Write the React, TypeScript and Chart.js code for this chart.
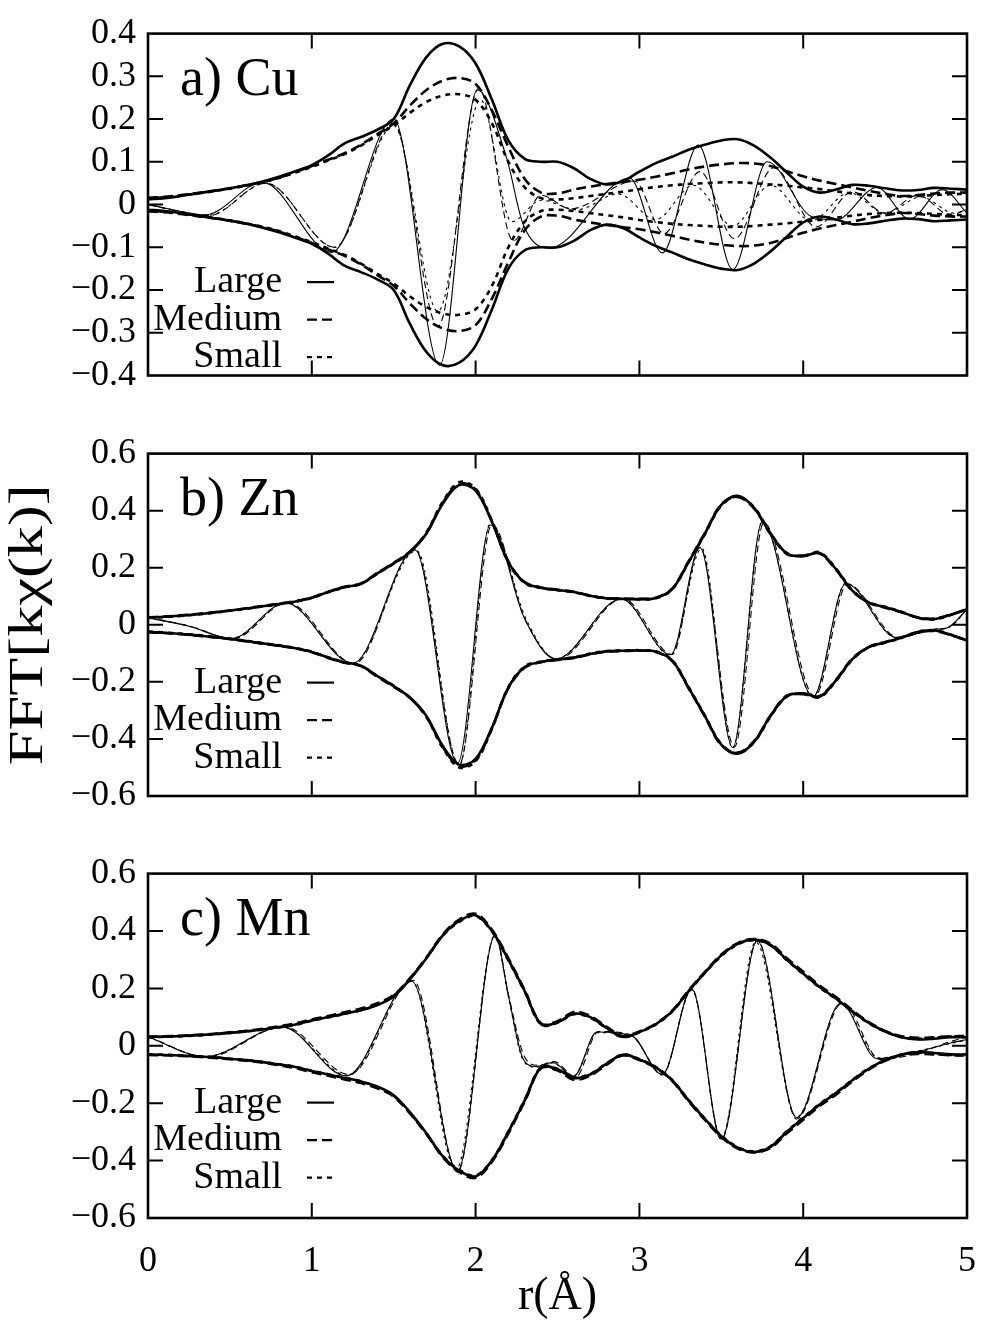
import React, { useEffect, useRef } from 'react';
import { Chart, registerables } from 'chart.js';

Chart.register(...registerables);

const FONT = '"Liberation Serif", "Times New Roman", serif';

// r grid (Å) for the magnitude envelopes
const R = [0, 0.1, 0.2, 0.3, 0.4, 0.5, 0.6, 0.7, 0.8, 0.9, 1.0, 1.1, 1.2, 1.3, 1.4, 1.5, 1.6, 1.7, 1.8, 1.9, 2.0, 2.1, 2.2, 2.3, 2.4, 2.5, 2.6, 2.7, 2.8, 2.9, 3.0, 3.1, 3.2, 3.3, 3.4, 3.5, 3.6, 3.7, 3.8, 3.9, 4.0, 4.1, 4.2, 4.3, 4.4, 4.5, 4.6, 4.7, 4.8, 4.9, 5.0];
const X_TICKS = [0, 1, 2, 3, 4, 5];
const SERIES_NAMES = ['Large', 'Medium', 'Small'];
const Y_TITLE = 'FFT[kχ(k)]';
const X_TITLE = 'r(Å)';

// ---- a) Cu : magnitudes ----
const CU_LARGE = [0.012, 0.015, 0.02, 0.026, 0.032, 0.038, 0.045, 0.054, 0.065, 0.078, 0.092, 0.115, 0.143, 0.158, 0.175, 0.2, 0.28, 0.345, 0.376, 0.37, 0.33, 0.245, 0.15, 0.107, 0.1, 0.1, 0.085, 0.06, 0.047, 0.055, 0.077, 0.097, 0.112, 0.128, 0.14, 0.15, 0.153, 0.138, 0.11, 0.075, 0.042, 0.028, 0.035, 0.046, 0.044, 0.038, 0.033, 0.034, 0.039, 0.037, 0.035];
const CU_MEDIUM = [0.016, 0.018, 0.022, 0.027, 0.032, 0.038, 0.045, 0.053, 0.063, 0.076, 0.09, 0.105, 0.12, 0.14, 0.165, 0.19, 0.232, 0.268, 0.29, 0.296, 0.282, 0.22, 0.135, 0.06, 0.028, 0.026, 0.035, 0.042, 0.048, 0.053, 0.058, 0.065, 0.073, 0.082, 0.089, 0.094, 0.097, 0.096, 0.09, 0.078, 0.066, 0.056, 0.048, 0.04, 0.032, 0.025, 0.02, 0.022, 0.026, 0.028, 0.028];
const CU_SMALL = [0.014, 0.017, 0.021, 0.026, 0.031, 0.037, 0.044, 0.052, 0.062, 0.075, 0.088, 0.103, 0.118, 0.138, 0.162, 0.185, 0.215, 0.24, 0.255, 0.258, 0.245, 0.19, 0.1, 0.04, 0.015, 0.012, 0.015, 0.02, 0.025, 0.03, 0.036, 0.041, 0.045, 0.048, 0.05, 0.052, 0.052, 0.05, 0.047, 0.044, 0.04, 0.036, 0.031, 0.026, 0.022, 0.02, 0.019, 0.02, 0.022, 0.024, 0.025];
// ---- a) Cu : oscillating part ----
const CU_LARGE_OSC_R = [0, 0.15, 0.35, 0.7, 1.12, 1.5, 1.78, 2.01, 2.19, 2.29, 2.45, 2.94, 3.14, 3.36, 3.57, 3.78, 4.05, 4.2, 4.45, 4.65, 4.85, 5.0];
const CU_LARGE_OSC_V = [0.0, -0.012, -0.024, 0.052, -0.112, 0.2, -0.376, 0.268, 0.108, -0.046, -0.102, 0.062, -0.113, 0.139, -0.152, 0.1, -0.028, -0.036, 0.04, -0.034, 0.035, -0.02];
const CU_MEDIUM_OSC_R = [0, 0.15, 0.37, 0.72, 1.14, 1.5, 1.77, 2.02, 2.23, 2.4, 2.58, 2.97, 3.15, 3.37, 3.58, 3.82, 4.08, 4.3, 4.5, 4.7, 4.9, 5.0];
const CU_MEDIUM_OSC_V = [0.0, -0.013, -0.026, 0.05, -0.1, 0.19, -0.285, 0.272, -0.085, 0.022, -0.01, 0.055, -0.068, 0.077, -0.08, 0.086, -0.052, 0.03, -0.02, 0.022, -0.025, -0.01];
const CU_SMALL_OSC_R = [0, 0.15, 0.37, 0.72, 1.14, 1.5, 1.77, 2.03, 2.22, 2.4, 2.62, 2.87, 3.1, 3.33, 3.57, 3.8, 4.05, 4.28, 4.5, 4.72, 4.92, 5.0];
const CU_SMALL_OSC_V = [0.0, -0.012, -0.025, 0.05, -0.1, 0.185, -0.25, 0.245, -0.04, 0.01, -0.012, 0.025, -0.035, 0.045, -0.05, 0.045, -0.038, 0.028, -0.02, 0.018, -0.02, -0.012];

// ---- b) Zn : magnitudes ----
const ZN_LARGE = [0.025, 0.028, 0.032, 0.037, 0.043, 0.05, 0.057, 0.065, 0.073, 0.082, 0.095, 0.115, 0.132, 0.143, 0.18, 0.215, 0.255, 0.32, 0.425, 0.49, 0.47, 0.36, 0.22, 0.148, 0.13, 0.122, 0.115, 0.102, 0.093, 0.091, 0.09, 0.094, 0.125, 0.22, 0.32, 0.42, 0.452, 0.41, 0.32, 0.25, 0.24, 0.252, 0.195, 0.12, 0.078, 0.062, 0.045, 0.025, 0.02, 0.035, 0.055];
const ZN_MEDIUM = [0.026, 0.029, 0.033, 0.038, 0.044, 0.05, 0.058, 0.066, 0.074, 0.083, 0.096, 0.116, 0.133, 0.145, 0.182, 0.217, 0.257, 0.322, 0.428, 0.495, 0.474, 0.362, 0.222, 0.15, 0.131, 0.123, 0.116, 0.103, 0.094, 0.092, 0.091, 0.095, 0.127, 0.222, 0.322, 0.422, 0.448, 0.408, 0.318, 0.248, 0.243, 0.25, 0.193, 0.118, 0.078, 0.06, 0.044, 0.026, 0.022, 0.036, 0.054];
const ZN_SMALL = [0.024, 0.027, 0.031, 0.036, 0.042, 0.049, 0.056, 0.064, 0.072, 0.081, 0.094, 0.114, 0.131, 0.144, 0.179, 0.214, 0.256, 0.324, 0.432, 0.5, 0.478, 0.364, 0.218, 0.146, 0.129, 0.121, 0.114, 0.101, 0.092, 0.09, 0.089, 0.093, 0.124, 0.218, 0.318, 0.418, 0.45, 0.412, 0.322, 0.252, 0.242, 0.254, 0.197, 0.122, 0.079, 0.063, 0.046, 0.024, 0.019, 0.034, 0.056];
// ---- b) Zn : oscillating part ----
const ZN_LARGE_OSC_R = [0, 0.25, 0.51, 0.84, 1.25, 1.63, 1.89, 2.09, 2.3, 2.49, 2.89, 3.19, 3.37, 3.57, 3.75, 4.06, 4.26, 4.57, 4.8, 4.88, 5.0];
const ZN_LARGE_OSC_V = [0.025, -0.005, -0.048, 0.077, -0.135, 0.262, -0.485, 0.35, 0.02, -0.12, 0.091, -0.105, 0.27, -0.43, 0.36, -0.252, 0.145, -0.045, -0.016, -0.01, 0.054];
const ZN_MEDIUM_OSC_R = [0, 0.25, 0.52, 0.85, 1.26, 1.63, 1.9, 2.1, 2.3, 2.5, 2.9, 3.2, 3.37, 3.58, 3.76, 4.07, 4.27, 4.58, 4.8, 4.88, 5.0];
const ZN_MEDIUM_OSC_V = [0.026, -0.004, -0.049, 0.078, -0.136, 0.264, -0.49, 0.352, 0.022, -0.121, 0.092, -0.104, 0.272, -0.428, 0.358, -0.25, 0.143, -0.044, -0.017, -0.011, 0.053];
const ZN_SMALL_OSC_R = [0, 0.26, 0.51, 0.84, 1.25, 1.64, 1.9, 2.09, 2.31, 2.49, 2.89, 3.19, 3.38, 3.57, 3.75, 4.06, 4.26, 4.57, 4.8, 4.89, 5.0];
const ZN_SMALL_OSC_V = [0.024, -0.006, -0.047, 0.076, -0.134, 0.26, -0.495, 0.355, 0.018, -0.119, 0.09, -0.106, 0.268, -0.432, 0.362, -0.253, 0.146, -0.046, -0.015, -0.009, 0.055];

// ---- c) Mn : magnitudes ----
const MN_LARGE = [0.031, 0.032, 0.034, 0.037, 0.04, 0.045, 0.05, 0.057, 0.065, 0.074, 0.088, 0.1, 0.112, 0.124, 0.142, 0.172, 0.232, 0.305, 0.385, 0.435, 0.455, 0.4, 0.3, 0.19, 0.075, 0.082, 0.112, 0.1, 0.062, 0.031, 0.048, 0.075, 0.12, 0.19, 0.255, 0.315, 0.355, 0.37, 0.352, 0.3, 0.252, 0.205, 0.165, 0.12, 0.08, 0.05, 0.03, 0.022, 0.025, 0.03, 0.03];
const MN_MEDIUM = [0.032, 0.033, 0.035, 0.038, 0.042, 0.047, 0.052, 0.059, 0.068, 0.078, 0.092, 0.104, 0.117, 0.13, 0.148, 0.177, 0.236, 0.308, 0.388, 0.44, 0.46, 0.404, 0.305, 0.194, 0.078, 0.086, 0.118, 0.104, 0.066, 0.034, 0.05, 0.077, 0.122, 0.193, 0.258, 0.318, 0.358, 0.372, 0.356, 0.305, 0.258, 0.21, 0.17, 0.124, 0.083, 0.052, 0.033, 0.028, 0.03, 0.033, 0.034];
const MN_SMALL = [0.03, 0.031, 0.033, 0.036, 0.04, 0.045, 0.05, 0.056, 0.064, 0.073, 0.087, 0.099, 0.111, 0.124, 0.143, 0.174, 0.234, 0.306, 0.384, 0.432, 0.452, 0.398, 0.298, 0.188, 0.074, 0.08, 0.11, 0.098, 0.061, 0.03, 0.047, 0.074, 0.119, 0.189, 0.254, 0.313, 0.353, 0.368, 0.35, 0.298, 0.25, 0.203, 0.163, 0.119, 0.079, 0.05, 0.03, 0.024, 0.028, 0.032, 0.033];
// ---- c) Mn : oscillating part ----
const MN_LARGE_OSC_R = [0, 0.35, 0.82, 1.21, 1.61, 1.89, 2.12, 2.2, 2.29, 2.37, 2.47, 2.6, 2.74, 2.95, 3.14, 3.32, 3.5, 3.72, 3.96, 4.23, 4.45, 4.7, 4.9, 5.0];
const MN_LARGE_OSC_V = [0.031, -0.038, 0.066, -0.105, 0.225, -0.435, 0.385, 0.176, -0.045, -0.072, -0.058, -0.106, 0.048, 0.036, -0.1, 0.197, -0.325, 0.365, -0.25, 0.148, -0.045, -0.02, 0.01, 0.022];
const MN_MEDIUM_OSC_R = [0, 0.36, 0.83, 1.23, 1.62, 1.89, 2.12, 2.2, 2.3, 2.38, 2.48, 2.61, 2.75, 2.95, 3.14, 3.32, 3.5, 3.72, 3.96, 4.24, 4.47, 4.7, 4.9, 5.0];
const MN_MEDIUM_OSC_V = [0.032, -0.039, 0.067, -0.1, 0.228, -0.44, 0.388, 0.18, -0.04, -0.068, -0.055, -0.11, 0.05, 0.038, -0.102, 0.2, -0.328, 0.368, -0.255, 0.15, -0.048, -0.025, 0.015, 0.03];
const MN_SMALL_OSC_R = [0, 0.35, 0.82, 1.22, 1.61, 1.88, 2.12, 2.2, 2.29, 2.37, 2.47, 2.6, 2.74, 2.95, 3.14, 3.32, 3.5, 3.71, 3.96, 4.23, 4.46, 4.7, 4.9, 5.0];
const MN_SMALL_OSC_V = [0.03, -0.037, 0.065, -0.103, 0.226, -0.432, 0.382, 0.172, -0.05, -0.075, -0.06, -0.104, 0.046, 0.035, -0.099, 0.195, -0.322, 0.362, -0.248, 0.146, -0.042, -0.018, 0.008, 0.02];

const THICK_DASH = [[], [10, 5], [5, 5]];
const THIN_DASH = [[], [7, 4], [3, 4]];

function pts(xs: number[], ys: number[]) {
  return xs.map((x, i) => ({ x, y: ys[i] }));
}
function neg(ys: number[]) {
  return ys.map((v) => -v);
}

function fmtTick(v: number) {
  if (Math.abs(v) < 1e-9) return '0';
  const s = Math.abs(v).toFixed(1);
  return v < 0 ? '\u2212' + s : s;
}

function buildDatasets(mags: number[][], oscR: number[][], oscV: number[][]) {
  const ds: any[] = [];
  for (let s = 0; s < 3; s++) {
    const common = {
      borderColor: '#000',
      backgroundColor: '#000',
      pointRadius: 0,
      fill: false,
      label: SERIES_NAMES[s],
    };
    ds.push({ ...common, data: pts(oscR[s], oscV[s]), borderWidth: 1.1, borderDash: THIN_DASH[s], cubicInterpolationMode: 'monotone' });
    ds.push({ ...common, data: pts(R, mags[s]), borderWidth: 2.6, borderDash: THICK_DASH[s], tension: 0.35 });
    ds.push({ ...common, data: pts(R, neg(mags[s])), borderWidth: 2.6, borderDash: THICK_DASH[s], tension: 0.35 });
  }
  return ds;
}

const framePlugin = {
  id: 'frame',
  afterDatasetsDraw(chart: any, _args: any, opts: any) {
    const { ctx, chartArea } = chart;
    const { left, right, top, bottom } = chartArea;
    const x = chart.scales.x;
    const y = chart.scales.y;
    const TL = 15;
    ctx.save();
    ctx.strokeStyle = '#000';
    ctx.setLineDash([]);
    ctx.lineWidth = 2;
    ctx.beginPath();
    for (const v of X_TICKS) {
      const px = x.getPixelForValue(v);
      if (px <= left + 1 || px >= right - 1) continue;
      ctx.moveTo(px, bottom);
      ctx.lineTo(px, bottom - TL);
      ctx.moveTo(px, top);
      ctx.lineTo(px, top + TL);
    }
    for (const t of y.ticks) {
      const py = y.getPixelForValue(t.value);
      if (py <= top + 1 || py >= bottom - 1) continue;
      ctx.moveTo(left, py);
      ctx.lineTo(left + TL, py);
      ctx.moveTo(right, py);
      ctx.lineTo(right - TL, py);
    }
    ctx.stroke();
    ctx.lineWidth = 2.6;
    ctx.strokeRect(left, top, right - left, bottom - top);

    // panel label
    ctx.fillStyle = '#000';
    ctx.textAlign = 'left';
    ctx.textBaseline = 'alphabetic';
    ctx.font = `54px ${FONT}`;
    ctx.fillText(opts.title, left + 32, top + 61.5);

    // key
    ctx.font = `38px ${FONT}`;
    ctx.textAlign = 'right';
    for (let i = 0; i < 3; i++) {
      const base = top + opts.keyBase + i * 37.5;
      ctx.fillText(SERIES_NAMES[i], left + 134, base);
      ctx.lineWidth = 2.2;
      ctx.setLineDash(THICK_DASH[i]);
      ctx.beginPath();
      ctx.moveTo(left + 159, base - 10);
      ctx.lineTo(left + 186, base - 10);
      ctx.stroke();
    }
    ctx.setLineDash([]);

    // vertical axis title (middle panel)
    if (opts.yTitle) {
      ctx.save();
      ctx.translate(29, (top + bottom) / 2);
      ctx.rotate(-Math.PI / 2);
      ctx.scale(1.3, 1);
      ctx.textAlign = 'center';
      ctx.textBaseline = 'middle';
      ctx.font = `48px ${FONT}`;
      ctx.fillText(Y_TITLE, 0, 0);
      ctx.restore();
    }
    ctx.restore();
  },
};

type PanelProps = {
  top: number;
  height: number;
  padTop: number;
  bottomH: number;
  yMax: number;
  yStep: number;
  title: string;
  keyBase: number;
  showX: boolean;
  yTitle: boolean;
  datasets: any[];
};

function Panel(p: PanelProps) {
  const ref = useRef<HTMLCanvasElement | null>(null);
  useEffect(() => {
    if (!ref.current) return;
    const chart = new Chart(ref.current, {
      type: 'line',
      data: { datasets: p.datasets },
      options: {
        animation: false,
        responsive: false,
        devicePixelRatio: 1,
        layout: { padding: { top: p.padTop, right: 15, left: 0, bottom: 0 } },
        plugins: {
          legend: { display: false },
          tooltip: { enabled: false },
          frame: { title: p.title, keyBase: p.keyBase, yTitle: p.yTitle },
        } as any,
        scales: {
          x: {
            type: 'linear',
            min: 0,
            max: 5,
            grid: { display: false, drawTicks: false },
            border: { display: false },
            ticks: {
              display: p.showX,
              stepSize: 1,
              autoSkip: false,
              maxRotation: 0,
              padding: 22,
              color: '#000',
              font: { family: FONT, size: 36 },
              callback: (v: any) => String(v),
            },
            title: {
              display: p.showX,
              text: X_TITLE,
              color: '#000',
              font: { family: FONT, size: 46 },
              padding: { top: 0, bottom: -5 },
            },
            afterFit: (s: any) => {
              s.height = p.bottomH;
              s.paddingLeft = 0;
              s.paddingRight = 0;
            },
          },
          y: {
            type: 'linear',
            min: -p.yMax,
            max: p.yMax,
            grid: { display: false, drawTicks: false },
            border: { display: false },
            ticks: {
              stepSize: p.yStep,
              autoSkip: false,
              padding: 12,
              color: '#000',
              font: { family: FONT, size: 36 },
              callback: (v: any) => fmtTick(Number(v)),
            },
            afterFit: (s: any) => {
              s.width = 148;
            },
          },
        },
      } as any,
      plugins: [framePlugin],
    });
    return () => chart.destroy();
  }, []);
  return (
    <div style={{ position: 'absolute', left: 0, top: p.top, width: 982, height: p.height }}>
      <canvas ref={ref} width={982} height={p.height} style={{ display: 'block', width: 982, height: p.height }} />
    </div>
  );
}

export default function App() {
  const cu = buildDatasets(
    [CU_LARGE, CU_MEDIUM, CU_SMALL],
    [CU_LARGE_OSC_R, CU_MEDIUM_OSC_R, CU_SMALL_OSC_R],
    [CU_LARGE_OSC_V, CU_MEDIUM_OSC_V, CU_SMALL_OSC_V]
  );
  const zn = buildDatasets(
    [ZN_LARGE, ZN_MEDIUM, ZN_SMALL],
    [ZN_LARGE_OSC_R, ZN_MEDIUM_OSC_R, ZN_SMALL_OSC_R],
    [ZN_LARGE_OSC_V, ZN_MEDIUM_OSC_V, ZN_SMALL_OSC_V]
  );
  const mn = buildDatasets(
    [MN_LARGE, MN_MEDIUM, MN_SMALL],
    [MN_LARGE_OSC_R, MN_MEDIUM_OSC_R, MN_SMALL_OSC_R],
    [MN_LARGE_OSC_V, MN_MEDIUM_OSC_V, MN_SMALL_OSC_V]
  );
  return (
    <div style={{ position: 'fixed', left: 0, top: 0, width: 982, height: 1320, background: '#fff', overflow: 'hidden' }}>
      <Panel top={0} height={420} padTop={26.5} bottomH={44.5} yMax={0.4} yStep={0.1} title="a) Cu" keyBase={258.5} showX={false} yTitle={false} datasets={cu} />
      <Panel top={420} height={420} padTop={28.5} bottomH={44} yMax={0.6} yStep={0.2} title="b) Zn" keyBase={239} showX={false} yTitle={true} datasets={zn} />
      <Panel top={840} height={480} padTop={30.3} bottomH={102} yMax={0.6} yStep={0.2} title="c) Mn" keyBase={239} showX={true} yTitle={false} datasets={mn} />
    </div>
  );
}
